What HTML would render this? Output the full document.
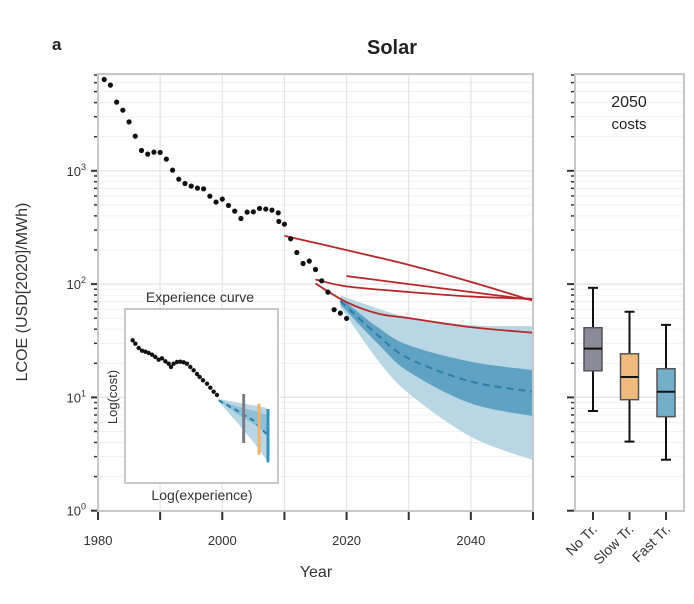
<!DOCTYPE html>
<html><head><meta charset="utf-8"><style>
body{margin:0;background:#fff;}
svg{display:block;font-family:"Liberation Sans",Arial,sans-serif;}
</style></head><body>
<svg id="chart" width="694" height="604" viewBox="0 0 694 604" xmlns="http://www.w3.org/2000/svg">
<g id="main"></g>
<g id="inset"></g>
<g id="right"></g>
<text x="52" y="50" font-size="17" font-weight="bold" fill="#222">a</text>
<text x="392" y="54" font-size="20" font-weight="bold" fill="#222" text-anchor="middle">Solar</text>
<text x="316" y="577" font-size="16" fill="#333" text-anchor="middle">Year</text>
<text transform="translate(27,292) rotate(-90)" font-size="16" fill="#333" text-anchor="middle">LCOE (USD[2020]/MWh)</text>
</svg>
<script>
// ---- data ----
const histYears = [1981,1982,1983,1984,1985,1986,1987,1988,1989,1990,1991,1992,1993,1994,1995,1996,1997,1998,1999,2000,2001,2002,2003,2004,2005,2006,2007,2008,2009,2009.1,2010,2011,2012,2013,2014,2015,2016,2017,2018,2019,2020];
const histLogCost = [3.806,3.756,3.606,3.535,3.432,3.306,3.179,3.147,3.165,3.162,3.103,3.006,2.926,2.888,2.865,2.847,2.841,2.776,2.724,2.75,2.694,2.644,2.579,2.635,2.638,2.668,2.662,2.653,2.629,2.553,2.529,2.4,2.279,2.182,2.203,2.129,2.029,1.929,1.774,1.744,1.697];
const bandYears = [2019,2025,2030,2040,2050];
const outerUpper = [1.90,1.785,1.71,1.638,1.629];
const outerLower = [1.80,1.33,1.035,0.653,0.447];
const innerUpper = [1.88,1.62,1.46,1.315,1.241];
const innerLower = [1.82,1.476,1.226,0.947,0.835];
const medianLog = [1.85,1.55,1.344,1.14,1.05];
const red1Years = [2010,2020,2030,2040,2050]; const red1Log = [2.426,2.30,2.17,2.02,1.853];
const red2Years = [2020,2030,2040,2050]; const red2Log = [2.071,2.00,1.93,1.86];
const red3Years = [2015,2020,2030,2040,2050]; const red3Log = [2.041,1.98,1.93,1.89,1.87];
const red4Years = [2015,2020,2025,2030,2040,2050]; const red4Log = [2.005,1.84,1.74,1.70,1.62,1.571];
const xTicks = [1980,2000,2020,2040];
const yTicks = [0,1,2,3];
const boxCats = ["No Tr.","Slow Tr.","Fast Tr."];
const boxWlo = [0.88,0.61,0.45];
const boxQ1 = [1.235,0.98,0.83];
const boxMed = [1.43,1.18,1.05];
const boxQ3 = [1.615,1.385,1.253];
const boxWhi = [1.967,1.756,1.64];
const boxColors = ["#8b8b98","#efbb7c","#74afca"];
const insetX = [23,31,41,51,61,71,81,91,101,111,121,131,138,146,156,166,176,186,196,206,216,224,234,246,256,266,276];
const insetY = [94,104,117,125,128,132,137,144,152,148,157,164,174,164,159,158,160,164,174,184,195,204,214,224,236,248,258];
const insetFcX = [281,336,386,426];
const insetFcMed = [274,305,335,377];
const insetOutHi = [270,280,289,297];
const insetOutLo = [278,340,400,455];
const insetInHi = [274,292,305,318];
const insetInLo = [274,315,345,375];
const insetBarX = [356,402,429];
const insetBarLo = [255,284,300];
const insetBarHi = [402,437,460];
const insetBarColors = ["#7b7b86","#efb36a","#3a8fb8"];

const NS="http://www.w3.org/2000/svg";
function mk(parent,tag,attrs){const e=document.createElementNS(NS,tag);for(const k in attrs)e.setAttribute(k,attrs[k]);parent.appendChild(e);return e;}
const X0=98, X1=533, Y0=74, Y1=511;
const xS=y=>X0+(y-1980)*(X1-X0)/70;
const yS=l=>510.7-l*113.3;
const main=document.getElementById('main');
for(let d=0;d<4;d++){for(let m=2;m<=9;m++){const l=d+Math.log10(m);const y=yS(l);if(y<Y0)continue;
 const g=mk(main,'line',{x1:X0,x2:X1,y1:y,y2:y,stroke:'#f1f1f1','stroke-width':1});
 
 
 const t=mk(main,'line',{x1:X0-4,x2:X0,y1:y,y2:y,stroke:'#333','stroke-width':1.5});
 
 }}
for(let yr=1990;yr<2050;yr+=10){const g=mk(main,'line',{x1:xS(yr),x2:xS(yr),y1:Y0,y2:Y1,stroke:'#e4e4e4','stroke-width':1.2});
 
 }
yTicks.forEach(t=>{const y=yS(t);
 const g=mk(main,'line',{x1:X0,x2:X1,y1:y,y2:y,stroke:'#e4e4e4','stroke-width':1.2});
 
 
 const tk=mk(main,'line',{x1:X0-7,x2:X0,y1:y,y2:y,stroke:'#333','stroke-width':2});
 
 
 const tx=mk(main,'text',{x:X0-12,y:y+5,'font-size':13,fill:'#333','text-anchor':'end'});
 tx.innerHTML='10<tspan dy="-6" font-size="9">'+t+'</tspan>';
 
 });
for(let yr=1980;yr<=2050;yr+=10){const tk=mk(main,'line',{x1:xS(yr),x2:xS(yr),y1:Y1,y2:Y1+9,stroke:'#333','stroke-width':2});
 
 }
xTicks.forEach(t=>{const tx=mk(main,'text',{x:xS(t),y:545,'font-size':13,fill:'#333','text-anchor':'middle'});tx.textContent=t;
 
 });
function smooth(xs,ys,fx,fy){const p=xs.map((x,i)=>[fx(x),fy(ys[i])]);let d='M'+p[0];for(let i=1;i<p.length;i++){const p0=p[i-2]||p[i-1],p1=p[i-1],p2=p[i],p3=p[i+1]||p[i];d+='C'+(p1[0]+(p2[0]-p0[0])/6)+','+(p1[1]+(p2[1]-p0[1])/6)+' '+(p2[0]-(p3[0]-p1[0])/6)+','+(p2[1]-(p3[1]-p1[1])/6)+' '+p2[0]+','+p2[1];}return d;}
function smoothBand(xs,hi,lo){const up=smooth(xs,hi,xS,yS);const r=xs.slice().reverse(),lr=lo.slice().reverse();const dn=smooth(r,lr,xS,yS).replace('M','L');return up+dn+'Z';}
let b=mk(main,'path',{d:smoothBand(bandYears,outerUpper,outerLower),fill:'#b9d6e4'});


b=mk(main,'path',{d:smoothBand(bandYears,innerUpper,innerLower),fill:'#5fa2c3'});


b=mk(main,'path',{d:smooth(bandYears,medianLog,xS,yS),fill:'none',stroke:'#2a7fab','stroke-width':2,'stroke-dasharray':'7,5'});


[[red1Years,red1Log],[red2Years,red2Log],[red3Years,red3Log],[red4Years,red4Log]].forEach(([xs,ys])=>{
 const l=mk(main,'path',{d:smooth(xs,ys,xS,yS),fill:'none',stroke:'#b8282a','stroke-width':1.8});
 
 });
histYears.forEach((yr,i)=>{const c=mk(main,'circle',{cx:xS(yr),cy:yS(histLogCost[i]),r:2.6,fill:'#111'});
 
 });
let fr=mk(main,'rect',{x:X0,y:Y0,width:X1-X0,height:Y1-Y0,fill:'none',stroke:'#c8c8c8','stroke-width':2});



// inset
const inset=document.getElementById('inset');
const IX=125, IY=309;
const ix=v=>IX+v/3, iy=v=>IY+v/3;
fr=mk(inset,'rect',{x:IX,y:IY,width:153,height:174,fill:'#fff',stroke:'#c8c8c8','stroke-width':2});


function ipath(xs,ys){return xs.map((x,i)=>(i?'L':'M')+ix(x)+','+iy(ys[i])).join('');}
function iband(xs,hi,lo){return ipath(xs,hi)+ipath(xs.slice().reverse(),lo.slice().reverse()).replace('M','L')+'Z';}
b=mk(inset,'path',{d:iband(insetFcX,insetOutHi,insetOutLo),fill:'#b9d6e4'});


b=mk(inset,'path',{d:iband(insetFcX,insetInHi,insetInLo),fill:'#8ebfd6'});


b=mk(inset,'path',{d:ipath(insetFcX,insetFcMed),fill:'none',stroke:'#2a7fab','stroke-width':2,'stroke-dasharray':'5,4'});


insetBarX.forEach((x,i)=>{const l=mk(inset,'line',{x1:ix(x),x2:ix(x),y1:iy(insetBarLo[i]),y2:iy(insetBarHi[i]),stroke:insetBarColors[i],'stroke-width':3});
 
 });
insetX.forEach((x,i)=>{const c=mk(inset,'circle',{cx:ix(x),cy:iy(insetY[i]),r:2.2,fill:'#111'});
 
 });
let t=mk(inset,'text',{x:200,y:302,'font-size':14,fill:'#333','text-anchor':'middle'});t.textContent='Experience curve';


t=mk(inset,'text',{x:202,y:500,'font-size':14,fill:'#333','text-anchor':'middle'});t.textContent='Log(experience)';


t=mk(inset,'text',{transform:'translate(117,397) rotate(-90)','font-size':13,fill:'#333','text-anchor':'middle'});t.textContent='Log(cost)';



// right panel
const right=document.getElementById('right');
const RX0=575, RX1=684;
for(let d=0;d<4;d++){for(let m=2;m<=9;m++){const l=d+Math.log10(m);const y=yS(l);if(y<Y0)continue;
 const g=mk(right,'line',{x1:RX0,x2:RX1,y1:y,y2:y,stroke:'#f1f1f1','stroke-width':1});
 
 
 const tk=mk(right,'line',{x1:RX0-4,x2:RX0,y1:y,y2:y,stroke:'#333','stroke-width':1.5});
 
 }}
yTicks.forEach(v=>{const y=yS(v);
 const g=mk(right,'line',{x1:RX0,x2:RX1,y1:y,y2:y,stroke:'#e4e4e4','stroke-width':1.2});
 
 
 const tk=mk(right,'line',{x1:RX0-8,x2:RX0,y1:y,y2:y,stroke:'#333','stroke-width':2});
 
 });
boxCats.forEach((c,i)=>{const cx=593+i*36.5;
 const w=mk(right,'line',{x1:cx,x2:cx,y1:yS(boxWlo[i]),y2:yS(boxWhi[i]),stroke:'#111','stroke-width':2});
 
 
 [boxWlo[i],boxWhi[i]].forEach(v=>{const cap=mk(right,'line',{x1:cx-5,x2:cx+5,y1:yS(v),y2:yS(v),stroke:'#111','stroke-width':2});
  
  });
 const r=mk(right,'rect',{x:cx-9,y:yS(boxQ3[i]),width:18,height:yS(boxQ1[i])-yS(boxQ3[i]),fill:boxColors[i],stroke:'#555','stroke-width':1.5});
 
 
 const m=mk(right,'line',{x1:cx-9,x2:cx+9,y1:yS(boxMed[i]),y2:yS(boxMed[i]),stroke:'#111','stroke-width':2});
 
 
 const tk=mk(right,'line',{x1:cx,x2:cx,y1:Y1,y2:Y1+9,stroke:'#333','stroke-width':2});
 
 
 const tx=mk(right,'text',{transform:'translate('+(cx+5)+',530) rotate(-45)','font-size':14,fill:'#333','text-anchor':'end'});tx.textContent=c;
 
 });
fr=mk(right,'rect',{x:RX0,y:Y0,width:RX1-RX0,height:Y1-Y0,fill:'none',stroke:'#c8c8c8','stroke-width':2});


t=mk(right,'text',{x:629,y:107,'font-size':16,fill:'#222','text-anchor':'middle'});t.textContent='2050';


t=mk(right,'text',{x:629,y:129,'font-size':15,fill:'#222','text-anchor':'middle'});t.textContent='costs';


</script>
</body></html>
